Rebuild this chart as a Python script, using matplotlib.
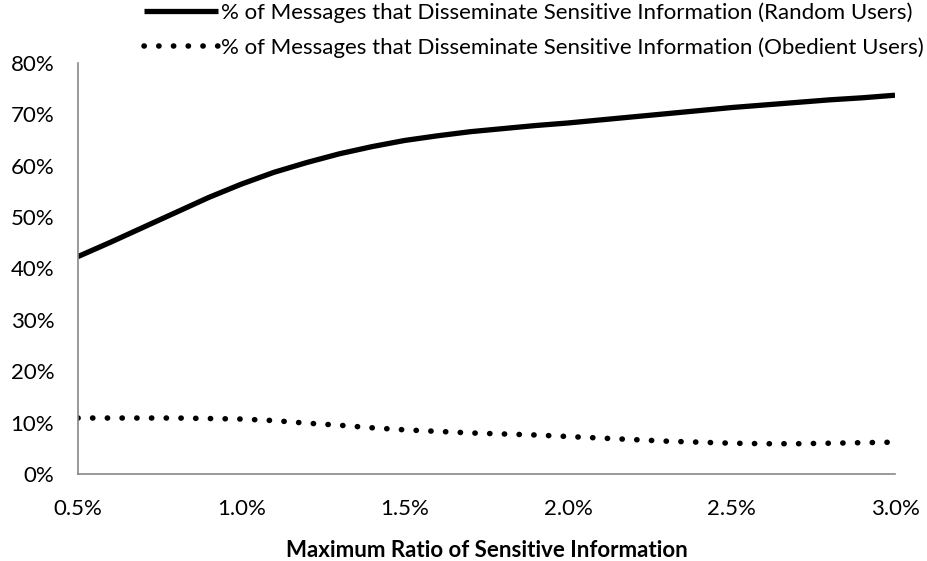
import matplotlib.pyplot as plt
from matplotlib.ticker import FuncFormatter

plt.rcParams['font.family'] = ['Lato', 'DejaVu Sans']

# values (max ratio in %, share of messages in %)
ratio = [0.5, 0.6, 0.7, 0.8, 0.9, 1.0, 1.1, 1.2, 1.3, 1.4, 1.5, 1.6, 1.7,
         1.8, 1.9, 2.0, 2.1, 2.2, 2.3, 2.4, 2.5, 2.6, 2.7, 2.8, 2.9, 3.0]
random_users = [42.3, 45.1, 48.0, 50.9, 53.8, 56.4, 58.7, 60.6, 62.3, 63.7,
                64.9, 65.8, 66.6, 67.2, 67.8, 68.3, 68.9, 69.5, 70.1, 70.7,
                71.3, 71.8, 72.3, 72.8, 73.2, 73.7]
obedient_users = [10.9, 10.9, 10.9, 10.9, 10.8, 10.7, 10.4, 9.9, 9.5, 9.0,
                  8.6, 8.3, 8.0, 7.8, 7.6, 7.3, 7.0, 6.7, 6.4, 6.2,
                  6.0, 5.9, 5.9, 6.0, 6.1, 6.2]

label_random = '% of Messages that Disseminate Sensitive Information (Random Users)'
label_obedient = '% of Messages that Disseminate Sensitive Information (Obedient Users)'

fig = plt.figure(figsize=(9.27, 5.61), dpi=100)
ax = fig.add_axes([0.084, 0.155, 0.8815, 0.733])

ax.plot(ratio, random_users, color='black', linewidth=3.8,
        solid_capstyle='butt', solid_joinstyle='round', label=label_random)
ax.plot(ratio, obedient_users, color='black', linewidth=4.0,
        linestyle=(0, (0.05, 2.6)), dash_capstyle='round', label=label_obedient)

ax.set_xlim(0.5, 3.0)
ax.set_ylim(0, 80)
ax.set_xticks([0.5, 1.0, 1.5, 2.0, 2.5, 3.0])
ax.set_yticks(range(0, 81, 10))
ax.xaxis.set_major_formatter(FuncFormatter(lambda v, p: f'{v:.1f}%'))
ax.yaxis.set_major_formatter(FuncFormatter(lambda v, p: f'{v:.0f}%'))
ax.tick_params(length=0, labelsize=16, colors='black')
ax.tick_params(axis='y', pad=17)
ax.tick_params(axis='x', pad=18)

for s in ['top', 'right']:
    ax.spines[s].set_visible(False)
for s in ['left', 'bottom']:
    ax.spines[s].set_color('#888888')
    ax.spines[s].set_linewidth(1.2)

ax.set_xlabel('Maximum Ratio of Sensitive Information', fontsize=16,
              fontweight='bold', labelpad=15)

fig.legend(loc='upper right', bbox_to_anchor=(0.999, 1.0), frameon=False,
           fontsize=16, handlelength=3.3, handletextpad=0.15,
           labelspacing=0.65, borderaxespad=0.0, borderpad=0.1)

fig.savefig('out.png', dpi=100)
